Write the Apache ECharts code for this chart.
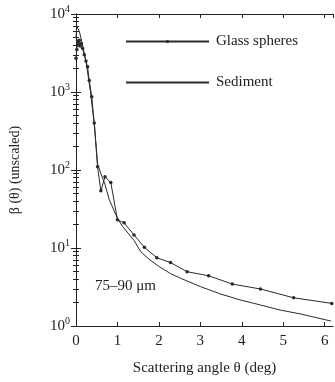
<!DOCTYPE html>
<html><head><meta charset="utf-8">
<script src="https://cdn.jsdelivr.net/npm/echarts@6/dist/echarts.min.js"></script>
<style>html,body{margin:0;padding:0;background:#fff}#c{width:335px;height:382px}</style>
</head><body><div id="c"></div>
<script>
var glassTheta = [0,0.02,0.04,0.06,0.08,0.1,0.13,0.16,0.2,0.24,0.28,0.32,0.38,0.44,0.52,0.6,0.7,0.84,1.0,1.16,1.4,1.65,1.95,2.28,2.68,3.2,3.77,4.45,5.25,6.17];
var glassBeta  = [2700,3500,4500,4000,4600,3900,4200,3600,3000,2500,2100,1400,870,400,110,54,82,69,23,21,14.7,10.2,7.5,6.5,4.97,4.4,3.45,2.98,2.3,1.95];
var sedTheta = [0,0.02,0.08,0.15,0.25,0.35,0.45,0.52,0.6,0.7,0.8,0.92,1.02,1.12,1.4,1.56,1.76,2.0,2.28,2.52,3.0,3.49,3.97,4.45,4.93,5.41,6.05,6.15];
var sedBeta  = [5000,7000,6000,4200,2300,1000,350,120,90,65,42,30,23,19,12.5,9.0,7.2,5.8,4.7,4.1,3.2,2.57,2.15,1.86,1.6,1.43,1.19,1.16];
var xTicks = [0,1,2,3,4,5,6];
var yExps = [0,1,2,3,4];
var seriesNames = ['Glass spheres','Sediment'];
var annotation = '75\u201390 \u03bcm';

var FONT = 'Liberation Serif';
function pairs(a,b){return a.map(function(v,i){return [v,b[i]];});}
var chart = echarts.init(document.getElementById('c'));
var axLine = {show:true, lineStyle:{color:'#222', width:1}};
var yLabel = {
  fontFamily: FONT, color:'#222', margin: 6,
  formatter: function(v){ var e=Math.round(Math.log10(v)); return yExps.indexOf(e)>=0 ? '{b|10}{s|'+e+'}' : ''; },
  rich: { b:{fontFamily:FONT,fontSize:15,color:'#222'}, s:{fontFamily:FONT,fontSize:10,color:'#222',verticalAlign:'top',padding:[0,0,10,0]} }
};
chart.setOption({
  animation:false,
  grid:{left:75, right:2, top:14, bottom:56},
  legend:{
    orient:'vertical', left:125, top:34, padding:0, itemWidth:83, itemHeight:4, itemGap:26,
    data: [{name:seriesNames[0]}, {name:seriesNames[1], itemStyle:{opacity:0}}],
    textStyle:{fontFamily:FONT, fontSize:15, color:'#222', padding:[0,0,0,2]}
  },
  xAxis:[{
    type:'value', min:0, max:6.2, interval:1,
    axisLine:axLine, axisTick:{show:true, inside:true, length:4, lineStyle:{color:'#222'}},
    splitLine:{show:false},
    axisLabel:{fontFamily:FONT, fontSize:15, color:'#222', margin:8,
      formatter:function(v){return xTicks.indexOf(v)>=0? String(v):'';}, showMaxLabel:false},
    name:'Scattering angle \u03b8 (deg)', nameLocation:'middle', nameGap:35,
    nameTextStyle:{fontFamily:FONT, fontSize:15, color:'#222'}
  },{
    type:'value', min:0, max:6.2, interval:1, position:'top',
    axisLine:axLine, axisTick:{show:true, inside:true, length:4, lineStyle:{color:'#222'}},
    axisLabel:{show:false}, splitLine:{show:false}
  }],
  yAxis:[{
    type:'log', logBase:10, min:1, max:10000,
    axisLine:axLine, axisTick:{show:true, inside:true, length:5, lineStyle:{color:'#222'}},
    minorTick:{show:true, splitNumber:9, length:3, lineStyle:{color:'#222'}},
    splitLine:{show:false}, axisLabel:yLabel,
    name:'\u03b2 (\u03b8) (unscaled)', nameLocation:'middle', nameGap:54, nameRotate:90,
    nameTextStyle:{fontFamily:FONT, fontSize:14, color:'#222'}
  },{
    type:'log', logBase:10, min:1, max:10000, position:'right',
    axisLine:axLine, axisTick:{show:true, inside:true, length:5, lineStyle:{color:'#222'}},
    minorTick:{show:true, splitNumber:9, length:3, lineStyle:{color:'#222'}},
    splitLine:{show:false}, axisLabel:{show:false}
  }],
  series:[{
    name:seriesNames[0], type:'line', data:pairs(glassTheta,glassBeta),
    symbol:'circle', symbolSize:3.5, showSymbol:true,
    lineStyle:{color:'#2a2a2a', width:1}, itemStyle:{color:'#2a2a2a'}
  },{
    name:seriesNames[1], type:'line', data:pairs(sedTheta,sedBeta),
    symbol:'none', lineStyle:{color:'#2a2a2a', width:1}, itemStyle:{color:'#2a2a2a'}
  }],
  graphic:[{
    type:'text', left:95, top:279,
    style:{text:annotation, fontFamily:FONT, fontSize:15, fill:'#222'}
  }]
});
</script></body></html>
